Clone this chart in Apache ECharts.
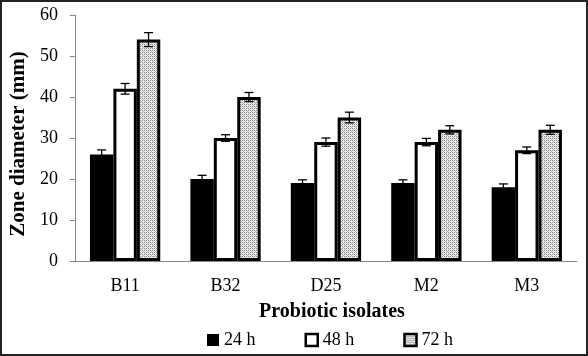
<!DOCTYPE html>
<html><head><meta charset="utf-8">
<script src="https://cdn.jsdelivr.net/npm/echarts@6/dist/echarts.min.js"></script>
<style>html,body{margin:0;padding:0;background:#fff}#c{width:588px;height:356px}</style>
</head><body><div id="c"></div>
<script>
const categories = ['B11','B32','D25','M2','M3'];
const seriesNames = ['24 h','48 h','72 h'];
const values24 = [26, 20, 19, 19, 18];
const values48 = [42, 30, 29, 29, 27];
const values72 = [54, 40, 35, 32, 32];
const err24 = [1.1, 0.9, 0.8, 0.8, 0.8];
const err48 = [1.3, 0.8, 1.0, 0.9, 0.8];
const err72 = [1.7, 1.1, 1.3, 1.0, 1.1];
const yTicks = [0, 10, 20, 30, 40, 50, 60];

const pc = document.createElement('canvas');
pc.width = 4; pc.height = 4;
const g = pc.getContext('2d');
g.fillStyle = '#ececec'; g.fillRect(0,0,4,4);
g.fillStyle = '#8a8a8a';
g.fillRect(0,0,1,1); g.fillRect(2,2,1,1); g.fillRect(2,0,1,1); g.fillRect(0,2,1,1);
g.fillStyle = '#b5b5b5';
g.fillRect(1,1,1,1); g.fillRect(3,3,1,1);
const dotted = {image: pc, repeat: 'repeat'};

const allVals = [values24, values48, values72];
const allErr = [err24, err48, err72];
const fills = ['#000', '#fff', dotted];
const font = '"Liberation Serif", "Times New Roman", serif';

const series = [];
for (let i = 0; i < 3; i++) {
  series.push({
    name: seriesNames[i], type: 'bar', barGap: '0%', barCategoryGap: '30%',
    data: allVals[i],
    itemStyle: {color: fills[i], borderColor: '#000', borderWidth: i === 0 ? 0 : 3},
    z: 2
  });
}
for (let i = 0; i < 3; i++) {
  series.push({
    type: 'custom', name: 'err' + i,
    data: allVals[i].map((v, k) => [k, v, allErr[i][k]]),
    encode: {x: 0, y: 1},
    z: 5,
    renderItem: function (params, api) {
      const k = api.value(0), v = api.value(1), e = api.value(2);
      const band = api.size([1, 0])[0];
      const bw = band * 0.7 / 3;
      const top = api.coord([k, v + e]);
      const bot = api.coord([k, v - e]);
      const x = top[0] + (i - 1) * bw;
      const cap = 4.5;
      const st = {stroke: '#000', lineWidth: 1.3};
      return {type: 'group', children: [
        {type: 'line', shape: {x1: x, y1: top[1], x2: x, y2: bot[1]}, style: st},
        {type: 'line', shape: {x1: x - cap, y1: top[1], x2: x + cap, y2: top[1]}, style: st},
        {type: 'line', shape: {x1: x - cap, y1: bot[1], x2: x + cap, y2: bot[1]}, style: st}
      ]};
    }
  });
}

const chart = echarts.init(document.getElementById('c'), null, {renderer: 'canvas'});
chart.setOption({
  animation: false,
  backgroundColor: '#fff',
  textStyle: {fontFamily: font},
  graphic: [{type: 'rect', shape: {x: 1, y: 1, width: 586, height: 354},
    style: {fill: 'none', stroke: '#222', lineWidth: 2}, z: 100}],
  grid: {left: 72, right: 11, top: 15, bottom: 95, containLabel: false},
  legend: {
    data: seriesNames.map((n, i) => ({name: n, icon: 'rect', itemStyle: {color: fills[i], borderColor: '#000', borderWidth: i === 0 ? 0 : 2.5}})),
    top: 326, left: 202, itemWidth: 12, itemHeight: 12, itemGap: 49,
    textStyle: {fontFamily: font, fontSize: 18, color: '#000'}
  },
  xAxis: {
    type: 'category', data: categories,
    name: 'Probiotic isolates', nameLocation: 'middle', nameGap: 41,
    nameTextStyle: {fontFamily: font, fontSize: 20, fontWeight: 'bold', color: '#000', padding: [0, 0, 0, 12]},
    axisLine: {lineStyle: {color: '#888', width: 1}},
    axisTick: {alignWithLabel: true, lineStyle: {color: '#888'}, length: 4},
    axisLabel: {fontFamily: font, fontSize: 18, color: '#000', margin: 16}
  },
  yAxis: {
    type: 'value', min: 0, max: 60, interval: 10,
    name: 'Zone diameter (mm)', nameLocation: 'middle', nameGap: 44, nameRotate: 90,
    nameTextStyle: {fontFamily: font, fontSize: 21, fontWeight: 'bold', color: '#000', padding: [0, 12, 0, 0]},
    axisLine: {show: true, lineStyle: {color: '#888', width: 1}},
    axisTick: {show: true, lineStyle: {color: '#888'}, length: 5},
    splitLine: {show: false},
    axisLabel: {fontFamily: font, fontSize: 18, color: '#000', margin: 17,
      formatter: v => yTicks.includes(v) ? String(v) : ''}
  },
  series: series
});
</script></body></html>
